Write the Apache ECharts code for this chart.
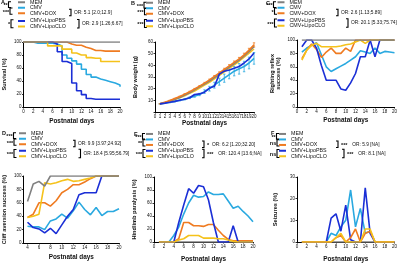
<!DOCTYPE html>
<html>
<head>
<meta charset="utf-8">
<script src="https://cdn.jsdelivr.net/npm/echarts@6/dist/echarts.min.js"></script>
<style>html,body{margin:0;padding:0;background:#fff}#chart{width:400px;height:263px}</style>
</head>
<body>
<div id="chart"></div>
<script>
const groups = ['MEM', 'CMV', 'CMV+DOX', 'CMV+LipoPBS', 'CMV+LipoCLO'];
const colors = ['#808080', '#2aa9e0', '#ef7b21', '#1b2fd6', '#f5c21b'];

// A - survival (days 0..20, step curve)
const survDays = [0,1,2,3,4,5,6,7,8,9,10,11,12,13,14,15,16,17,18,19,20];
const survMEM = [100,100,100,100,100,100,100,100,100,100,100,100,100,100,100,100,100,100,100,100,100];
const survCMV = [100,100,98,98,98,98,97,94,80,75,71,66,58,50,46,43,41,39,37,34,31];
const survDOX = [100,100,100,100,100,100,100,100,100,97,95,95,92,90,87,87,86,86,86,86,86];
const survPBS = [100,100,100,100,100,100,97,85,70,67,37,25,19,13,12,12,12,12,12,12,12];
const survCLO = [100,100,100,100,100,94,94,94,89,89,83,80,80,76,75,75,70,70,70,70,70];

// B - body weight (days 1..20)
const days = [1,2,3,4,5,6,7,8,9,10,11,12,13,14,15,16,17,18,19,20];
const bwMEM = [7,8,9.5,11,12.5,14.5,16.5,19,21.5,24,26.5,29.5,32.5,35.5,38.5,41.5,44.5,48,52,56];
const bwCMV = [7,7.6,8.3,9.1,10,11,12.2,13.5,15,17.5,20,23,26,29,32,35,37,39,42,46];
const bwDOX = [7,8.3,9.8,11.5,13.3,15.3,17.4,19.7,22.2,24.8,27.5,30.5,33.5,36.5,39.5,42.5,45.5,49,53,57.5];
const bwPBS = [7,7.6,8.3,9.1,10,11,12.2,15,15.5,17,20.5,22,32.5,35,36,37.5,39,42,45.5,50.5];
const bwCLO = [7,8,9.3,10.8,12.3,14,16,18,20.5,23,25.5,28.5,31.5,34.5,37.5,40.5,43.5,47,50.5,54];
const bwErrCMV = [0.3,0.3,0.4,0.4,0.5,0.6,0.7,0.8,1,1.5,2,2.5,3,3.5,3.5,4,4.5,4.5,5,5];
const bwErrDOX = [0.2,0.2,0.3,0.3,0.3,0.4,0.4,0.5,0.5,0.6,0.7,0.8,0.9,1,1.1,1.2,1.3,1.4,1.6,1.8];

// C - righting reflex (days 1..20)
const rrMEM = [100,100,100,100,100,100,100,100,100,100,100,100,100,100,100,100,100,100,100,100];
const rrCMV = [82,88,92,96,78,60,53,57,61,65,70,75,84,82,80,88,80,83,82,81];
const rrDOX = [72,85,94,86,74,82,88,80,80,88,83,100,100,100,100,100,100,100,100,100];
const rrPBS = [90,100,100,88,62,40,40,40,27,25,36,50,75,75,100,75,100,100,100,100];
const rrCLO = [70,85,92,95,90,90,90,90,91,93,94,97,100,95,100,100,100,100,100,100];

// D - cliff aversion (days 4..20)
const caDays = [4,5,6,7,8,9,10,11,12,13,14,15,16,17,18,19,20];
const caMEM = [62,88,92,85,100,100,100,100,100,100,100,100,100,100,100,100,100];
const caCMV = [25,24,24,20,33,36,43,37,48,61,50,42,53,41,47,47,51];
const caDOX = [38,43,60,60,55,63,75,80,87,87,91,96,100,100,100,100,100];
const caPBS = [31,23,21,15,22,14,27,40,50,72,75,75,75,100,100,100,100];
const caCLO = [38,40,43,90,88,90,93,95,92,93,95,97,100,100,100,100,100];

// E - hindlimb paralysis (days 1..20)
const hpMEM = [0,0,0,0,0,0,0,0,0,0,0,0,0,0,0,0,0,0,0,0];
const hpCMV = [0,0,0,10,23,43,60,72,69,70,77,73,73,74,63,52,55,47,40,31];
const hpDOX = [0,0,0,0,5,30,30,25,25,24,27,27,18,10,4,2,2,2,2,2];
const hpPBS = [0,0,0,0,30,57,82,75,87,85,65,30,0,0,0,25,0,0,0,0];
const hpCLO = [0,0,0,0,3,5,10,10,10,6,6,6,5,5,3,1,0,0,0,0];

// F - seizures (days 1..20)
const szMEM = [0,0,0,0,0,0,0,0,0,0,0,0,0,0,0,0,0,0,0,0];
const szCMV = [0,0,0,0,0,0,4,3,7,10,24,7,15.5,4,5,0,0,0,0,0];
const szDOX = [0,0,0,0,0,0,0,2,3,0,2,6,0,4,5,0,0,0,0,0];
const szPBS = [0,0,0,0,0,0,11,13,5,17,1,0,0,25,4,0,0,0,0,0];
const szCLO = [0,0,0,0,0,0,0,2,4,0,0,0,0,6,6,0,0,0,0,0];

const yNames = ['Survival (%)', 'Body weight (g)', 'Righting reflex\nsuccess (%)',
  'Cliff aversion success (%)', 'Hindlimb paralysis (%)', 'Seizures (%)'];
const panelLetters = ['A', 'B', 'C', 'D', 'E', 'F'];

const FONT = 'Liberation Sans, Arial, sans-serif';
const chart = echarts.init(document.getElementById('chart'), null, { renderer: 'canvas' });

const grids = [
  { left: 21, top: 42, width: 99, height: 65 },
  { left: 155, top: 42, width: 99, height: 70 },
  { left: 297, top: 40, width: 100, height: 67 },
  { left: 21, top: 176, width: 98, height: 67 },
  { left: 154, top: 177, width: 99, height: 66 },
  { left: 297, top: 177, width: 100, height: 66 }
];

const axisLine = { lineStyle: { color: '#000', width: 1 } };
const tick = { length: 1.5, lineStyle: { color: '#000', width: 0.8 } };
const lbl = { fontSize: 4.5, color: '#111', fontFamily: FONT, margin: 2 };

const xGaps = [11, 7, 10, 11, 14, 14];
const xAxes = grids.map((g, i) => {
  const ax = {
    type: 'value', gridIndex: i, min: 0, max: 20, interval: i === 1 ? 1 : 2,
    name: 'Postnatal days', nameLocation: 'middle', nameGap: xGaps[i],
    nameTextStyle: { fontSize: 6.4, fontWeight: 'bold', fontFamily: FONT, color: '#111' },
    axisLine: axisLine, axisTick: tick, axisLabel: lbl, splitLine: { show: false }
  };
  if (i === 3) {
    const cv = [4, 6, 8, 10, 12, 14, 16, 18, 20];
    ax.min = 3.3;
    delete ax.interval;
    ax.axisLabel = Object.assign({}, lbl, { customValues: cv });
    ax.axisTick = Object.assign({}, tick, { customValues: cv });
  }
  return ax;
});

const yMax = [100, 60, 100, 100, 100, 30];
const yInt = [20, 10, 20, 20, 20, 10];
const yGaps = [16, 16, 15, 16, 16, 18];
const yAxes = grids.map((g, i) => ({
  type: 'value', gridIndex: i, min: 0, max: yMax[i], interval: yInt[i],
  name: yNames[i], nameLocation: 'middle', nameGap: yGaps[i], nameRotate: 90,
  nameTextStyle: { fontSize: 5.6, fontWeight: 'bold', fontFamily: FONT, color: '#111', lineHeight: 6.5 },
  axisLine: Object.assign({ show: true }, axisLine), axisTick: Object.assign({ show: true }, tick),
  axisLabel: Object.assign({}, lbl, i === 1 ? { formatter: v => (v === 0 ? '' : v) } : {}),
  splitLine: { show: false }
}));

function line(panel, k, xs, ys, extra) {
  return Object.assign({
    type: 'line', name: groups[k], xAxisIndex: panel, yAxisIndex: panel,
    data: xs.map((x, j) => [x, ys[j]]), symbol: 'none',
    lineStyle: { width: 1.6, color: colors[k] }, itemStyle: { color: colors[k] }
  }, extra || {});
}

function errBars(panel, k, xs, ys, es) {
  return {
    type: 'custom', name: groups[k] + ' sd', xAxisIndex: panel, yAxisIndex: panel,
    data: xs.map((x, j) => [x, ys[j], es[j]]),
    renderItem: function (params, api) {
      const x = api.value(0), v = api.value(1), e = api.value(2);
      const lo = api.coord([x, v - e]), hi = api.coord([x, v + e]);
      const st = { stroke: colors[k], lineWidth: 0.8 };
      return { type: 'group', children: [
        { type: 'line', shape: { x1: lo[0], y1: lo[1], x2: hi[0], y2: hi[1] }, style: st },
        { type: 'line', shape: { x1: lo[0] - 1.2, y1: lo[1], x2: lo[0] + 1.2, y2: lo[1] }, style: st },
        { type: 'line', shape: { x1: hi[0] - 1.2, y1: hi[1], x2: hi[0] + 1.2, y2: hi[1] }, style: st }
      ] };
    },
    silent: true
  };
}

const step = { step: 'end' };
const series = [
  line(0, 1, survDays, survCMV, step), line(0, 2, survDays, survDOX, step),
  line(0, 3, survDays, survPBS, step), line(0, 4, survDays, survCLO, step),
  line(0, 0, survDays, survMEM, step),

  errBars(1, 1, days, bwCMV, bwErrCMV), errBars(1, 2, days, bwDOX, bwErrDOX),
  line(1, 1, days, bwCMV), line(1, 4, days, bwCLO), line(1, 0, days, bwMEM),
  line(1, 2, days, bwDOX), line(1, 3, days, bwPBS),

  line(2, 1, days, rrCMV), line(2, 2, days, rrDOX), line(2, 3, days, rrPBS),
  line(2, 4, days, rrCLO), line(2, 0, days, rrMEM),

  line(3, 1, caDays, caCMV), line(3, 2, caDays, caDOX), line(3, 3, caDays, caPBS),
  line(3, 4, caDays, caCLO), line(3, 0, caDays, caMEM),

  line(4, 0, days, hpMEM), line(4, 1, days, hpCMV), line(4, 2, days, hpDOX),
  line(4, 3, days, hpPBS), line(4, 4, days, hpCLO),

  line(5, 0, days, szMEM), line(5, 1, days, szCMV), line(5, 3, days, szPBS),
  line(5, 2, days, szDOX), line(5, 4, days, szCLO)
];

// legend placement: [line start x, top of first group, top of second group]
const legendPos = [[18, -0.5, 18.25], [146, 0, 18], [277.5, -0.5, 17.5],
  [19, 130.5, 148], [146, 131.2, 148], [279, 131.2, 148]];
const legends = [];
legendPos.forEach(p => {
  [[groups.slice(0, 3), p[1]], [groups.slice(3), p[2]]].forEach(gp => {
    legends.push({
      left: p[0], top: gp[1], orient: 'vertical', padding: 0, itemGap: 0,
      itemWidth: 7, itemHeight: 2, icon: 'rect', selectedMode: false,
      textStyle: { fontSize: 5.3, lineHeight: 5.5, fontFamily: FONT, color: '#111' },
      data: gp[0]
    });
  });
});

// significance marks: bracket x positions, star labels, right-hand notes
const brackX = [[8.5, 10, 11], [144, 144.5, 144.5], [273.5, 274.5, 274.5],
  [13.5, 14, 14], [142.5, 143, 143], [276.5, 277, 277]];
const stars = [['**', '***', '*'], ['***', '***', '***'], ['***', '*', '***'],
  ['***', '***', '***'], ['***', '**', '***'], ['**', 'ns', 'ns']];
const rightNotes = [
  [[71, 'OR: 5.1 [2.0;12.9]', ''], [79, 'OR: 2.9 [1.26;6.67]', '']],
  null,
  [[338, 'OR: 2.6 [1.13;5.89]', ''], [348, 'OR: 20.1 [5.33;75.74]', '']],
  [[75, 'OR: 9.9 [3.97;24.92]', ''], [80.5, 'OR: 18.4 [5.95;56.79]', '']],
  [[204, 'OR: 6.2 [1.20;32.20]', '*'], [204, 'OR: 120.4 [13.6;NA]', '***']],
  [[338, 'OR: 5.9 [NA]', '***'], [344, 'OR: 8.1 [NA]', '***']]
];
const letterPos = [[1, 2], [131, 3], [266, 3], [2, 133], [134, 134], [271, 133]];

const graphic = [];
function poly(pts) {
  graphic.push({ type: 'polyline', shape: { points: pts }, style: { stroke: '#000', lineWidth: 1.1, fill: null } });
}
function txt(x, y, s, size, align, bold) {
  graphic.push({ type: 'text', x: x, y: y, style: { text: s, fontSize: size, fontFamily: FONT,
    fontWeight: bold ? 'bold' : 'normal', fill: '#111', align: align || 'left', verticalAlign: 'middle' } });
}
legendPos.forEach((p, i) => {
  const r1 = p[1] + 2.75, r2 = r1 + 5.5, r3 = r1 + 11, r4 = p[2] + 2.75, r5 = r4 + 5.5;
  const bx = brackX[i];
  const spans = [[r1 - 0.5, r2 - 0.3], [r2 + 0.3, r3 + 1], [r4 - 1.2, r5 + 1.2]];
  spans.forEach((s, j) => {
    poly([[bx[j] + 2.5, s[0]], [bx[j], s[0]], [bx[j], s[1]], [bx[j] + 2.5, s[1]]]);
    txt(bx[j] - 0.8, (s[0] + s[1]) / 2 + 1, stars[i][j], 5.5, 'right', true);
  });
  const rn = rightNotes[i];
  if (rn) {
    const rs = [[r2 + 1.5, r3 + 2.5], [r4 - 1.5, r5 + 1.5]];
    rn.forEach((n, j) => {
      const x = n[0], s = rs[j];
      poly([[x - 2, s[0]], [x, s[0]], [x, s[1]], [x - 2, s[1]]]);
      let tx = x + 3;
      const my = (s[0] + s[1]) / 2;
      if (n[2]) {
        txt(tx, my + 0.8, n[2], 5.5, 'left', true);
        tx += n[2].length * 3.1 + 2;
      }
      txt(tx, my, n[1], 4.8, 'left', false);
    });
  }
  txt(letterPos[i][0], letterPos[i][1], panelLetters[i], 5.5, 'left', true);
});

const option = {
  animation: false,
  textStyle: { fontFamily: FONT },
  grid: grids,
  xAxis: xAxes,
  yAxis: yAxes,
  legend: legends,
  graphic: graphic,
  series: series
};

chart.setOption(option);
window.addEventListener('resize', chart.resize);
</script>
</body>
</html>
